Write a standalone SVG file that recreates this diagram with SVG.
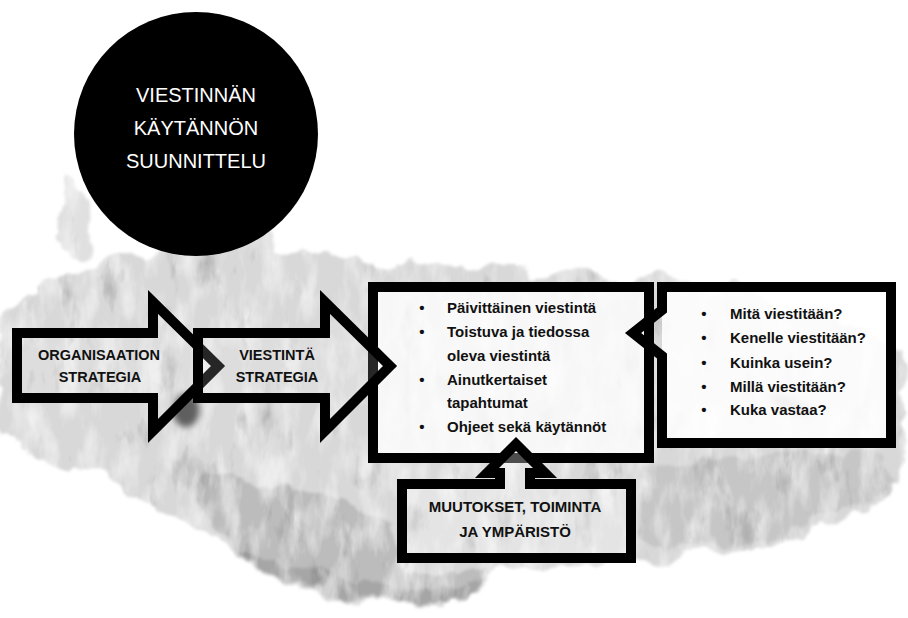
<svg xmlns="http://www.w3.org/2000/svg" width="908" height="618" viewBox="0 0 908 618">
<defs>
<style>
.outline{stroke:#000;stroke-width:10;stroke-linejoin:miter;stroke-miterlimit:6}
.lbl{font-family:"Liberation Sans",Arial,sans-serif;font-weight:bold;font-size:15px;fill:#111}
.albl{font-family:"Liberation Sans",Arial,sans-serif;font-weight:bold;font-size:14.5px;fill:#111;text-anchor:middle}
.title{font-family:"Liberation Sans",Arial,sans-serif;font-size:20px;fill:#fff;text-anchor:middle}
.bul{font-family:"Liberation Sans",Arial,sans-serif;font-weight:bold;font-size:15px;fill:#111;text-anchor:middle}
</style>
<filter id="wash" x="-10%" y="-20%" width="120%" height="140%">
<feTurbulence type="fractalNoise" baseFrequency="0.025" numOctaves="4" seed="4" result="warp"/>
<feDisplacementMap in="SourceGraphic" in2="warp" scale="34" xChannelSelector="R" yChannelSelector="G" result="shape"/>
<feGaussianBlur in="shape" stdDeviation="1.5" result="soft"/>
<feTurbulence type="fractalNoise" baseFrequency="0.05 0.02" numOctaves="4" seed="9" result="grain"/>
<feColorMatrix in="grain" type="matrix" values="0 0 0 0 1  0 0 0 0 1  0 0 0 0 1  1.3 0 0 0 -0.55" result="grainA"/>
<feComposite in="grainA" in2="soft" operator="in" result="spots"/>
<feColorMatrix in="grain" type="matrix" values="0 0 0 0 0  0 0 0 0 0  0 0 0 0 0  0 -1.1 0 0 0.42" result="darkA"/>
<feComposite in="darkA" in2="soft" operator="in" result="dspots"/>
<feMerge><feMergeNode in="soft"/><feMergeNode in="spots"/><feMergeNode in="dspots"/></feMerge>
</filter>
<filter id="blur3" x="-30%" y="-30%" width="160%" height="160%"><feGaussianBlur stdDeviation="3"/></filter>
</defs>
<rect width="908" height="618" fill="#fff"/>

<g id="background">
<g filter="url(#wash)">
<path fill="#d8d8d8" d="M0,305 C40,282 100,262 160,252 C200,244 230,236 260,240 C300,246 330,252 380,260 C460,268 560,272 650,278 C720,284 800,300 860,330 C890,345 908,360 908,380 L908,470 C890,495 860,515 820,528 C760,545 700,555 640,560 C590,566 540,568 500,574 C480,590 460,604 420,606 C360,604 300,596 260,572 C225,548 195,522 150,500 C100,476 50,452 0,438 Z"/>
<path fill="#e0e0e0" d="M62,170 C75,168 88,185 92,215 C94,240 88,258 72,262 C62,262 58,240 60,215 Z"/>
<path fill="#bcbcbc" d="M200,470 C260,480 330,500 395,520 L400,560 C430,570 470,570 490,575 C478,592 455,602 420,604 C360,602 300,594 262,570 C228,548 205,520 195,495 Z"/>
<path fill="#a6a6a6" d="M235,545 C280,565 340,580 400,585 C440,588 470,586 485,582 C470,598 450,603 420,603 C360,600 300,592 262,570 Z"/>
<path fill="#c6c6c6" d="M640,470 C700,460 800,450 880,455 L900,480 C860,512 800,530 720,545 C680,550 650,545 640,530 Z"/>
</g>
<ellipse cx="186" cy="410" rx="13" ry="17" fill="#5e5e5e" filter="url(#blur3)"/>
<ellipse cx="790" cy="405" rx="22" ry="7" transform="rotate(25 790 405)" fill="#8c8c8c" filter="url(#blur3)"/>
</g>

<g id="node-title">
<circle cx="196" cy="134" r="122" fill="#000"/>
<text class="title" x="196" y="102">VIESTINNÄN</text>
<text class="title" x="196" y="135">KÄYTÄNNÖN</text>
<text class="title" x="196" y="168">SUUNNITTELU</text>
</g>

<g id="node-main">
<rect class="outline" x="373" y="287" width="276" height="171" fill="rgba(255,255,255,0.8)"/>
<g>
<text class="bul" x="422" y="313">•</text><text class="lbl" x="447" y="313">Päivittäinen viestintä</text>
<text class="bul" x="422" y="337">•</text><text class="lbl" x="447" y="337">Toistuva ja tiedossa</text>
<text class="lbl" x="447" y="361">oleva viestintä</text>
<text class="bul" x="422" y="385">•</text><text class="lbl" x="447" y="385">Ainutkertaiset</text>
<text class="lbl" x="447" y="408">tapahtumat</text>
<text class="bul" x="422" y="432">•</text><text class="lbl" x="447" y="432">Ohjeet sekä käytännöt</text>
</g>
</g>

<g id="node-org-strategy">
<polygon class="outline" fill="rgba(255,255,255,0.15)" points="17,333 153,333 153,302 218,366 153,431 153,398 17,398"/>
<text class="albl" x="99" y="360">ORGANISAATION</text>
<text class="albl" x="100" y="382">STRATEGIA</text>
</g>

<g id="node-comm-strategy">
<polygon class="outline" fill="rgba(255,255,255,0.15)" points="198,333 325,333 325,302 390,366 325,431 325,398 198,398"/>
<text class="albl" x="277" y="360">VIESTINTÄ</text>
<text class="albl" x="277" y="382">STRATEGIA</text>
</g>

<g id="node-changes">
<path class="outline" fill="rgba(255,255,255,0.3)" d="M402,484 H500 V473 H487 L516,444 L545,473 H530 V484 H631 V558 H402 Z"/>
<text class="albl" style="font-size:15px" x="515" y="512">MUUTOKSET, TOIMINTA</text>
<text class="albl" style="font-size:15px" x="515" y="537">JA YMPÄRISTÖ</text>
</g>

<g id="node-questions">
<rect x="662" y="287" width="229" height="156" fill="rgba(255,255,255,0.88)"/>
<path class="outline" fill="none" d="M662,310 V287 H891 V443 H662 V356 L633,333 Z"/>
<text class="bul" x="704" y="319">•</text><text class="lbl" x="730" y="319">Mitä viestitään?</text>
<text class="bul" x="704" y="343">•</text><text class="lbl" x="730" y="343">Kenelle viestitään?</text>
<text class="bul" x="704" y="368">•</text><text class="lbl" x="730" y="368">Kuinka usein?</text>
<text class="bul" x="704" y="392">•</text><text class="lbl" x="730" y="392">Millä viestitään?</text>
<text class="bul" x="704" y="415">•</text><text class="lbl" x="730" y="415">Kuka vastaa?</text>
</g>

<g id="connectors"></g>
</svg>
